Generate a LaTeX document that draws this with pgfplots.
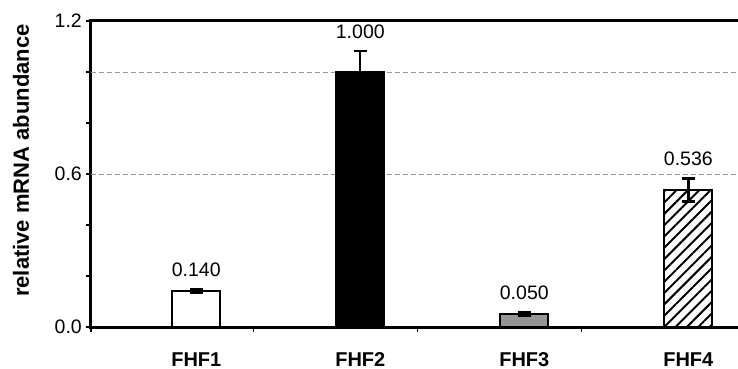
\documentclass[border=0pt]{standalone}
\usepackage{fontspec}
\setmainfont{Liberation Sans}
\usepackage{pgfplots}
\pgfplotsset{compat=1.18}
\usetikzlibrary{patterns.meta}
\definecolor{gridgray}{RGB}{150,150,150}
\definecolor{midgray}{RGB}{150,150,150}
\begin{document}
\begin{tikzpicture}
\pgfplotsset{
  mybar/.style={ybar, bar width=48bp, bar shift=0pt, draw=black, line width=1.8bp,
    error bars/y dir=both, error bars/y explicit,
    error bars/error bar style={line width=2.4bp, black, solid},
    error bars/error mark options={rotate=90, line width=2.8bp, mark size=6.5bp, black, solid}},
}
\begin{axis}[
  name=ax,
  scale only axis, width=647bp, height=306bp,
  xmin=-0.642, xmax=3.303, ymin=0, ymax=1.2,
  axis lines=left, axis line style={-, line width=3bp, line cap=rect},
  tick align=outside,
  major tick length=5bp, minor tick length=5bp,
  tick style={line width=1.5bp, black},
  xtick={0,1,2,3}, xticklabels={FHF1,FHF2,FHF3,FHF4},
  major x tick style={draw=none},
  minor xtick={-0.642,0.35,1.35,2.35},
  ytick={0,0.6,1.2}, yticklabels={0.0,0.6,1.2},
  minor ytick={0.2,0.4,0.8,1.0},
  extra y ticks={0.6,1.0}, extra y tick labels={},
  extra y tick style={grid=major, major grid style={gridgray, line width=0.9bp, dash pattern=on 5bp off 3bp}},
  xticklabel style={font=\fontsize{20bp}{24bp}\selectfont\bfseries, anchor=base, inner sep=0pt, yshift=-34bp},
  yticklabel style={font=\fontsize{19.5bp}{23bp}\selectfont, anchor=east, inner sep=0pt, xshift=-4bp},
  ylabel={relative mRNA abundance},
  every axis y label/.style={at={(rel axis cs:-0.108,0.544)}, rotate=90, anchor=center,
    font=\fontsize{22bp}{26bp}\selectfont\bfseries},
]
\addplot[mybar, fill=white] coordinates {(0,0.140) +- (0,0.007)};
\addplot[mybar, fill=black] coordinates {(1,1.000) +- (0,0.082)};
\addplot[mybar, fill=midgray] coordinates {(2,0.050) +- (0,0.007)};
\addplot[mybar, pattern={Lines[angle=45, distance=8bp, line width=2bp]}, pattern color=black] coordinates {(3,0.536) +- (0,0.045)};
\addplot[draw=none, mark=none, nodes near coords, point meta=explicit symbolic,
  nodes near coords style={anchor=base, inner sep=0pt, yshift=13bp, font=\fontsize{19.5bp}{23bp}\selectfont, text=black}]
  coordinates {(0,0.147)[0.140] (1,1.082)[1.000] (2,0.057)[0.050] (3,0.581)[0.536]};
\end{axis}
\draw[line width=3bp] ([xshift=-1.5bp]ax.north west) -- (ax.north east);
\pgfresetboundingbox
\path ([xshift=-91bp,yshift=-42bp]ax.south west) rectangle ([yshift=21bp]ax.north east);
\end{tikzpicture}
\end{document}
